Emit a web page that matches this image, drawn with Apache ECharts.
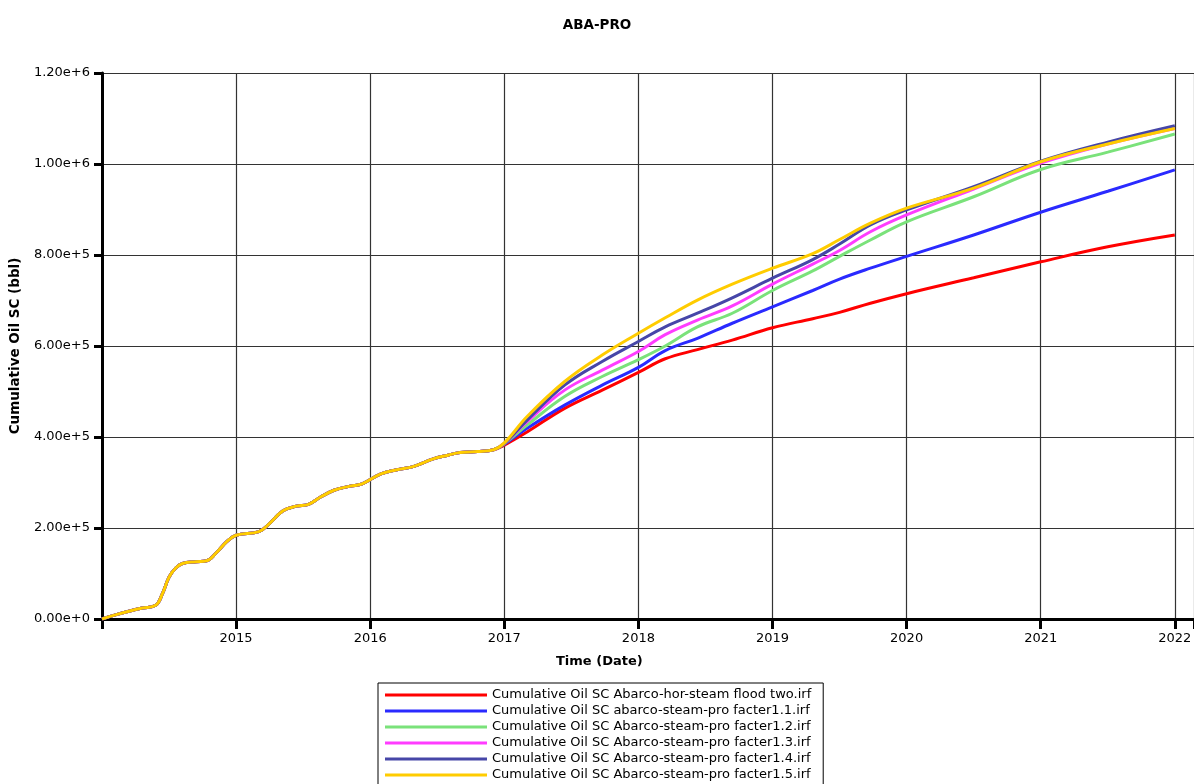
<!DOCTYPE html>
<html>
<head>
<meta charset="utf-8">
<title>ABA-PRO</title>
<script src="https://cdn.jsdelivr.net/npm/echarts@6/dist/echarts.min.js"></script>
<style>
  html, body { margin: 0; padding: 0; background: #fff; }
  #main { width: 1194px; height: 784px; }
</style>
</head>
<body>
<div id="main"></div>
<script>
// decimal years, all runs share the history up to end of 2016
var baseYears = [2014.0, 2014.1, 2014.2, 2014.3, 2014.4, 2014.45, 2014.5, 2014.55, 2014.6, 2014.7,
  2014.78, 2014.85, 2014.93, 2015.0, 2015.17, 2015.25, 2015.35, 2015.45, 2015.54, 2015.63,
  2015.73, 2015.85, 2015.94, 2016.08, 2016.2, 2016.32, 2016.47, 2016.58, 2016.67, 2016.8, 2016.92];
var baseOil = [0, 9e3, 17e3, 24e3, 30e3, 55e3, 92e3, 112e3, 122e3, 126e3,
  128e3, 145e3, 170e3, 184e3, 192e3, 210e3, 238e3, 248e3, 252e3, 268e3,
  283e3, 292e3, 297e3, 319e3, 328e3, 335e3, 352e3, 360e3, 366e3, 368e3, 372e3];

// forecast part, one array per run
var tailYears = [2017.0, 2017.17, 2017.45, 2017.73, 2018.0, 2018.2, 2018.44, 2018.7, 2019.0,
  2019.3, 2019.5, 2019.73, 2020.0, 2020.5, 2021.0, 2021.5, 2022.0];
var horSteamFlood = [382e3, 411e3, 463e3, 503e3, 542e3, 572e3, 592e3, 613e3, 640e3,
  660e3, 674e3, 694e3, 715e3, 750e3, 785e3, 818e3, 844e3];
var facter11 = [384e3, 419e3, 470e3, 514e3, 553e3, 590e3, 617e3, 650e3, 686e3,
  722e3, 747e3, 771e3, 797e3, 844e3, 894e3, 940e3, 987e3];
var facter12 = [385e3, 426e3, 489e3, 533e3, 570e3, 600e3, 642e3, 672e3, 722e3,
  765e3, 797e3, 833e3, 873e3, 928e3, 988e3, 1026e3, 1066e3];
var facter13 = [386e3, 434e3, 503e3, 547e3, 588e3, 625e3, 657e3, 688e3, 736e3,
  780e3, 810e3, 851e3, 888e3, 945e3, 1002e3, 1044e3, 1078e3];
var facter14 = [386e3, 437e3, 514e3, 566e3, 610e3, 642e3, 672e3, 706e3, 749e3,
  790e3, 824e3, 866e3, 899e3, 950e3, 1006e3, 1048e3, 1084e3];
var facter15 = [387e3, 445e3, 522e3, 580e3, 628e3, 662e3, 701e3, 736e3, 771e3,
  803e3, 834e3, 870e3, 903e3, 947e3, 1005e3, 1044e3, 1078e3];

var names = [
  'Cumulative Oil SC Abarco-hor-steam flood two.irf',
  'Cumulative Oil SC abarco-steam-pro facter1.1.irf',
  'Cumulative Oil SC Abarco-steam-pro facter1.2.irf',
  'Cumulative Oil SC Abarco-steam-pro facter1.3.irf',
  'Cumulative Oil SC Abarco-steam-pro facter1.4.irf',
  'Cumulative Oil SC Abarco-steam-pro facter1.5.irf'
];
var runs = [horSteamFlood, facter11, facter12, facter13, facter14, facter15];
var colors = ['#ff0000', '#2a2aff', '#7ae27a', '#ff3cff', '#4646a8', '#ffcc00'];

function makeData(tail) {
  var d = [];
  for (var i = 0; i < baseYears.length; i++) d.push([baseYears[i], baseOil[i]]);
  for (var j = 0; j < tailYears.length; j++) d.push([tailYears[j], tail[j]]);
  return d;
}

var font = 'DejaVu Sans, sans-serif';
var chart = echarts.init(document.getElementById('main'));

var option = {
  animation: false,
  color: colors,
  title: {
    text: 'ABA-PRO',
    left: 'center',
    top: 13,
    textStyle: { fontFamily: font, fontSize: 13.5, fontWeight: 'bold', color: '#000' }
  },
  graphic: [{
    type: 'text',
    left: 556,
    top: 655,
    style: { text: 'Time (Date)', font: 'bold 13px ' + font, fill: '#000' }
  }],
  legend: {
    orient: 'vertical',
    left: 378,
    top: 683,
    height: 140,
    padding: [5, 12, 12, 7],
    borderColor: '#000',
    borderWidth: 1,
    icon: 'rect',
    itemWidth: 102,
    itemHeight: 3,
    itemGap: 2,
    textStyle: { fontFamily: font, fontSize: 13, color: '#000', lineHeight: 14 },
    data: names
  },
  grid: { left: 102, top: 73, right: 0, bottom: 165, outerBoundsMode: 'none' },
  xAxis: {
    type: 'value',
    min: 2014,
    max: 2022.143,
    interval: 1,
    axisLine: { lineStyle: { color: '#000', width: 3 } },
    axisTick: { length: 10, lineStyle: { color: '#000', width: 3 } },
    axisLabel: {
      margin: 13,
      fontFamily: font,
      fontSize: 13,
      color: '#000',
      formatter: function (v) {
        if (v === 2014 || Math.abs(v - Math.round(v)) > 1e-6) return '';
        return String(Math.round(v));
      }
    },
    splitLine: { show: true, lineStyle: { color: '#333', width: 1.2 } }
  },
  yAxis: {
    type: 'value',
    min: 0,
    max: 1.2e6,
    interval: 2e5,
    name: 'Cumulative Oil SC (bbl)',
    nameLocation: 'middle',
    nameGap: 77,
    nameTextStyle: { fontFamily: font, fontSize: 13.5, fontWeight: 'bold', color: '#000' },
    axisLine: { show: true, lineStyle: { color: '#000', width: 3 } },
    axisTick: { show: true, length: 8, lineStyle: { color: '#000', width: 3 } },
    axisLabel: {
      margin: 12,
      fontFamily: font,
      fontSize: 13,
      color: '#000',
      formatter: function (v) { return v.toExponential(2); }
    },
    splitLine: { show: true, lineStyle: { color: '#333', width: 1.2 } }
  },
  series: runs.map(function (r, i) {
    return {
      name: names[i],
      type: 'line',
      data: makeData(r),
      showSymbol: false,
      smooth: 0.4,
      lineStyle: { width: 3, color: colors[i] }
    };
  })
};

chart.setOption(option);
</script>
</body>
</html>
